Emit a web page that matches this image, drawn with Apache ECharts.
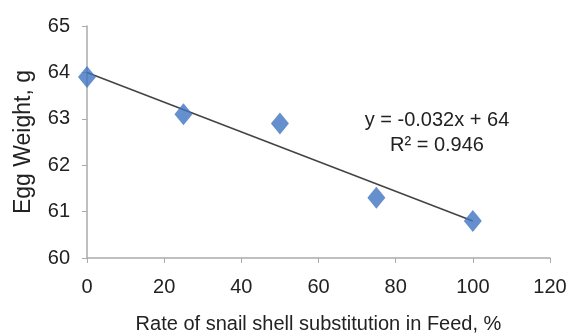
<!DOCTYPE html>
<html><head><meta charset="utf-8">
<script src="https://cdn.jsdelivr.net/npm/echarts@6/dist/echarts.min.js"></script>
<style>html,body{margin:0;padding:0;background:#fff}#c{width:568px;height:336px}</style>
</head><body><div id="c"></div>
<script>
const xValues = [0, 25, 50, 75, 100];
const eggWeight = [63.9, 63.1, 62.9, 61.3, 60.8];
const trendX = [0, 100];
const trendY = [64, 60.8];
const equationText = 'y = -0.032x + 64';
const r2Text = 'R² = 0.946';
const FONT = '"Liberation Sans", Arial, sans-serif';

const chart = echarts.init(document.getElementById('c'), null, {renderer: 'canvas'});
chart.setOption({
  animation: false,
  backgroundColor: '#fff',
  grid: {left: 87, right: 18, top: 26, bottom: 78, containLabel: false, outerBoundsMode: 'none'},
  xAxis: {
    type: 'value', min: 0, max: 120, interval: 20,
    name: 'Rate of snail shell substitution in Feed, %',
    nameLocation: 'middle', nameGap: 56,
    nameTextStyle: {fontFamily: FONT, fontSize: 20, color: '#222'},
    axisLine: {show: true, lineStyle: {color: '#aaa', width: 1.5}},
    axisTick: {show: true, length: 5, lineStyle: {color: '#aaa'}},
    axisLabel: {fontFamily: FONT, fontSize: 20, color: '#222', margin: 19},
    splitLine: {show: false}
  },
  yAxis: {
    type: 'value', min: 60, max: 65, interval: 1,
    name: 'Egg Weight, g',
    nameLocation: 'middle', nameGap: 52, nameRotate: 90,
    nameTextStyle: {fontFamily: FONT, fontSize: 23, color: '#222'},
    axisLine: {show: true, lineStyle: {color: '#aaa', width: 1.5}},
    axisTick: {show: true, length: 5, lineStyle: {color: '#aaa'}},
    axisLabel: {fontFamily: FONT, fontSize: 20, color: '#222', margin: 17},
    splitLine: {show: false}
  },
  series: [
    {
      type: 'line',
      data: trendX.map((x, i) => [x, trendY[i]]),
      symbol: 'none',
      lineStyle: {color: '#444', width: 1.6},
      z: 2
    },
    {
      type: 'scatter',
      data: xValues.map((x, i) => [x, eggWeight[i]]),
      symbol: 'diamond',
      symbolSize: [18, 22],
      itemStyle: {color: '#3f74c0'},
      z: 3
    }
  ],
  graphic: [
    {type: 'text', x: 437, y: 120, style: {text: equationText, font: '20px ' + FONT, fill: '#222', textAlign: 'center', textVerticalAlign: 'middle'}},
    {type: 'text', x: 437, y: 145, style: {text: r2Text, font: '20px ' + FONT, fill: '#222', textAlign: 'center', textVerticalAlign: 'middle'}}
  ]
});
</script></body></html>
